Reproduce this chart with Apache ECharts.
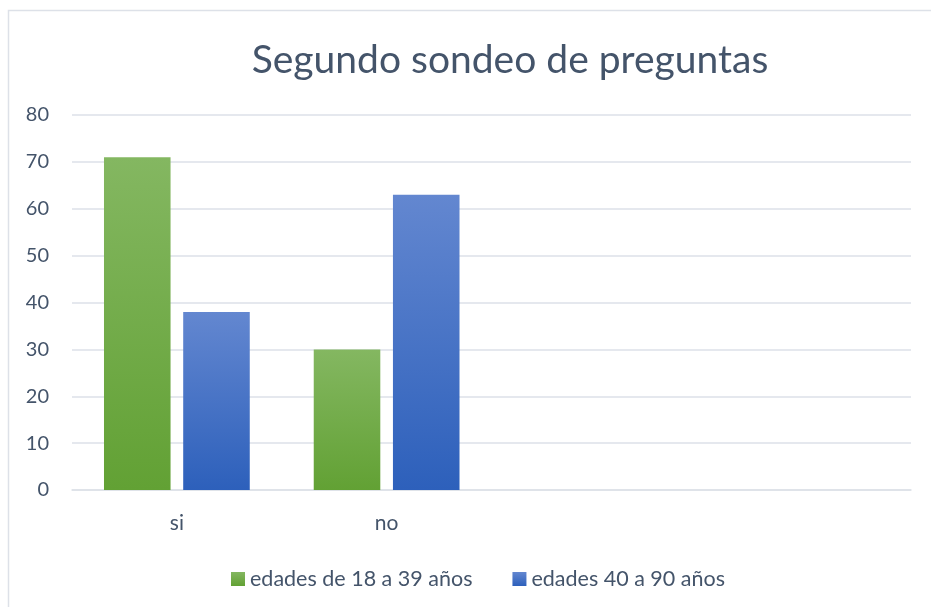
<!DOCTYPE html>
<html>
<head>
<meta charset="utf-8">
<script src="https://cdn.jsdelivr.net/npm/echarts@6/dist/echarts.min.js"></script>
<style>html,body{margin:0;padding:0;background:#fff;}#c{width:931px;height:607px;}</style>
</head>
<body>
<div id="c"></div>
<script>
const titleText = "Segundo sondeo de preguntas";
const categories = ["si", "no", "", ""];
const seriesNames = ["edades de 18 a 39 años", "edades 40 a 90 años"];
const youngValues = [71, 30, null, null];
const oldValues = [38, 63, null, null];
const yTicks = { min: 0, max: 80, interval: 10 };

const txt = "#44546a";
const font = "Lato";
const chart = echarts.init(document.getElementById("c"), null, { renderer: "canvas" });
const grad = (top, bottom) => new echarts.graphic.LinearGradient(0, 0, 0, 1, [
  { offset: 0, color: top }, { offset: 1, color: bottom }
]);
chart.setOption({
  backgroundColor: "#fff",
  animation: false,
  graphic: [
    { type: "rect", shape: { x: 8.5, y: 10.5, width: 1200, height: 800 }, style: { fill: "none", stroke: "#dde1e8", lineWidth: 1.5 } },
    { type: "text", x: 510, y: 80, style: { text: titleText, fontFamily: font, fontSize: 39, fill: txt, align: "center", verticalAlign: "bottom", textAlign: "center", textVerticalAlign: "bottom" } }
  ],
  grid: { left: 72, right: 20, top: 115, bottom: 117 },
  legend: {
    left: 226, top: 563, itemWidth: 14, itemHeight: 14, itemGap: 40,
    icon: "rect",
    textStyle: { fontFamily: font, fontSize: 21.5, color: txt }
  },
  xAxis: {
    type: "category", data: categories,
    axisLine: { lineStyle: { color: "#dde1e8", width: 1.5 } },
    axisTick: { show: false },
    axisLabel: { fontFamily: font, fontSize: 21, color: txt, margin: 23 }
  },
  yAxis: {
    type: "value", min: yTicks.min, max: yTicks.max, interval: yTicks.interval,
    axisLine: { show: false }, axisTick: { show: false },
    splitLine: { lineStyle: { color: "#dde1e8", width: 1.5 } },
    axisLabel: { fontFamily: font, fontSize: 20, color: txt, margin: 23 }
  },
  series: [
    { name: seriesNames[0], type: "bar", data: youngValues, barGap: "19%", barCategoryGap: "30.5%",
      itemStyle: { color: grad("#84b761", "#62a134") } },
    { name: seriesNames[1], type: "bar", data: oldValues, barGap: "19%", barCategoryGap: "30.5%",
      itemStyle: { color: grad("#6387d0", "#2d60bb") } }
  ]
});
</script>
</body>
</html>
